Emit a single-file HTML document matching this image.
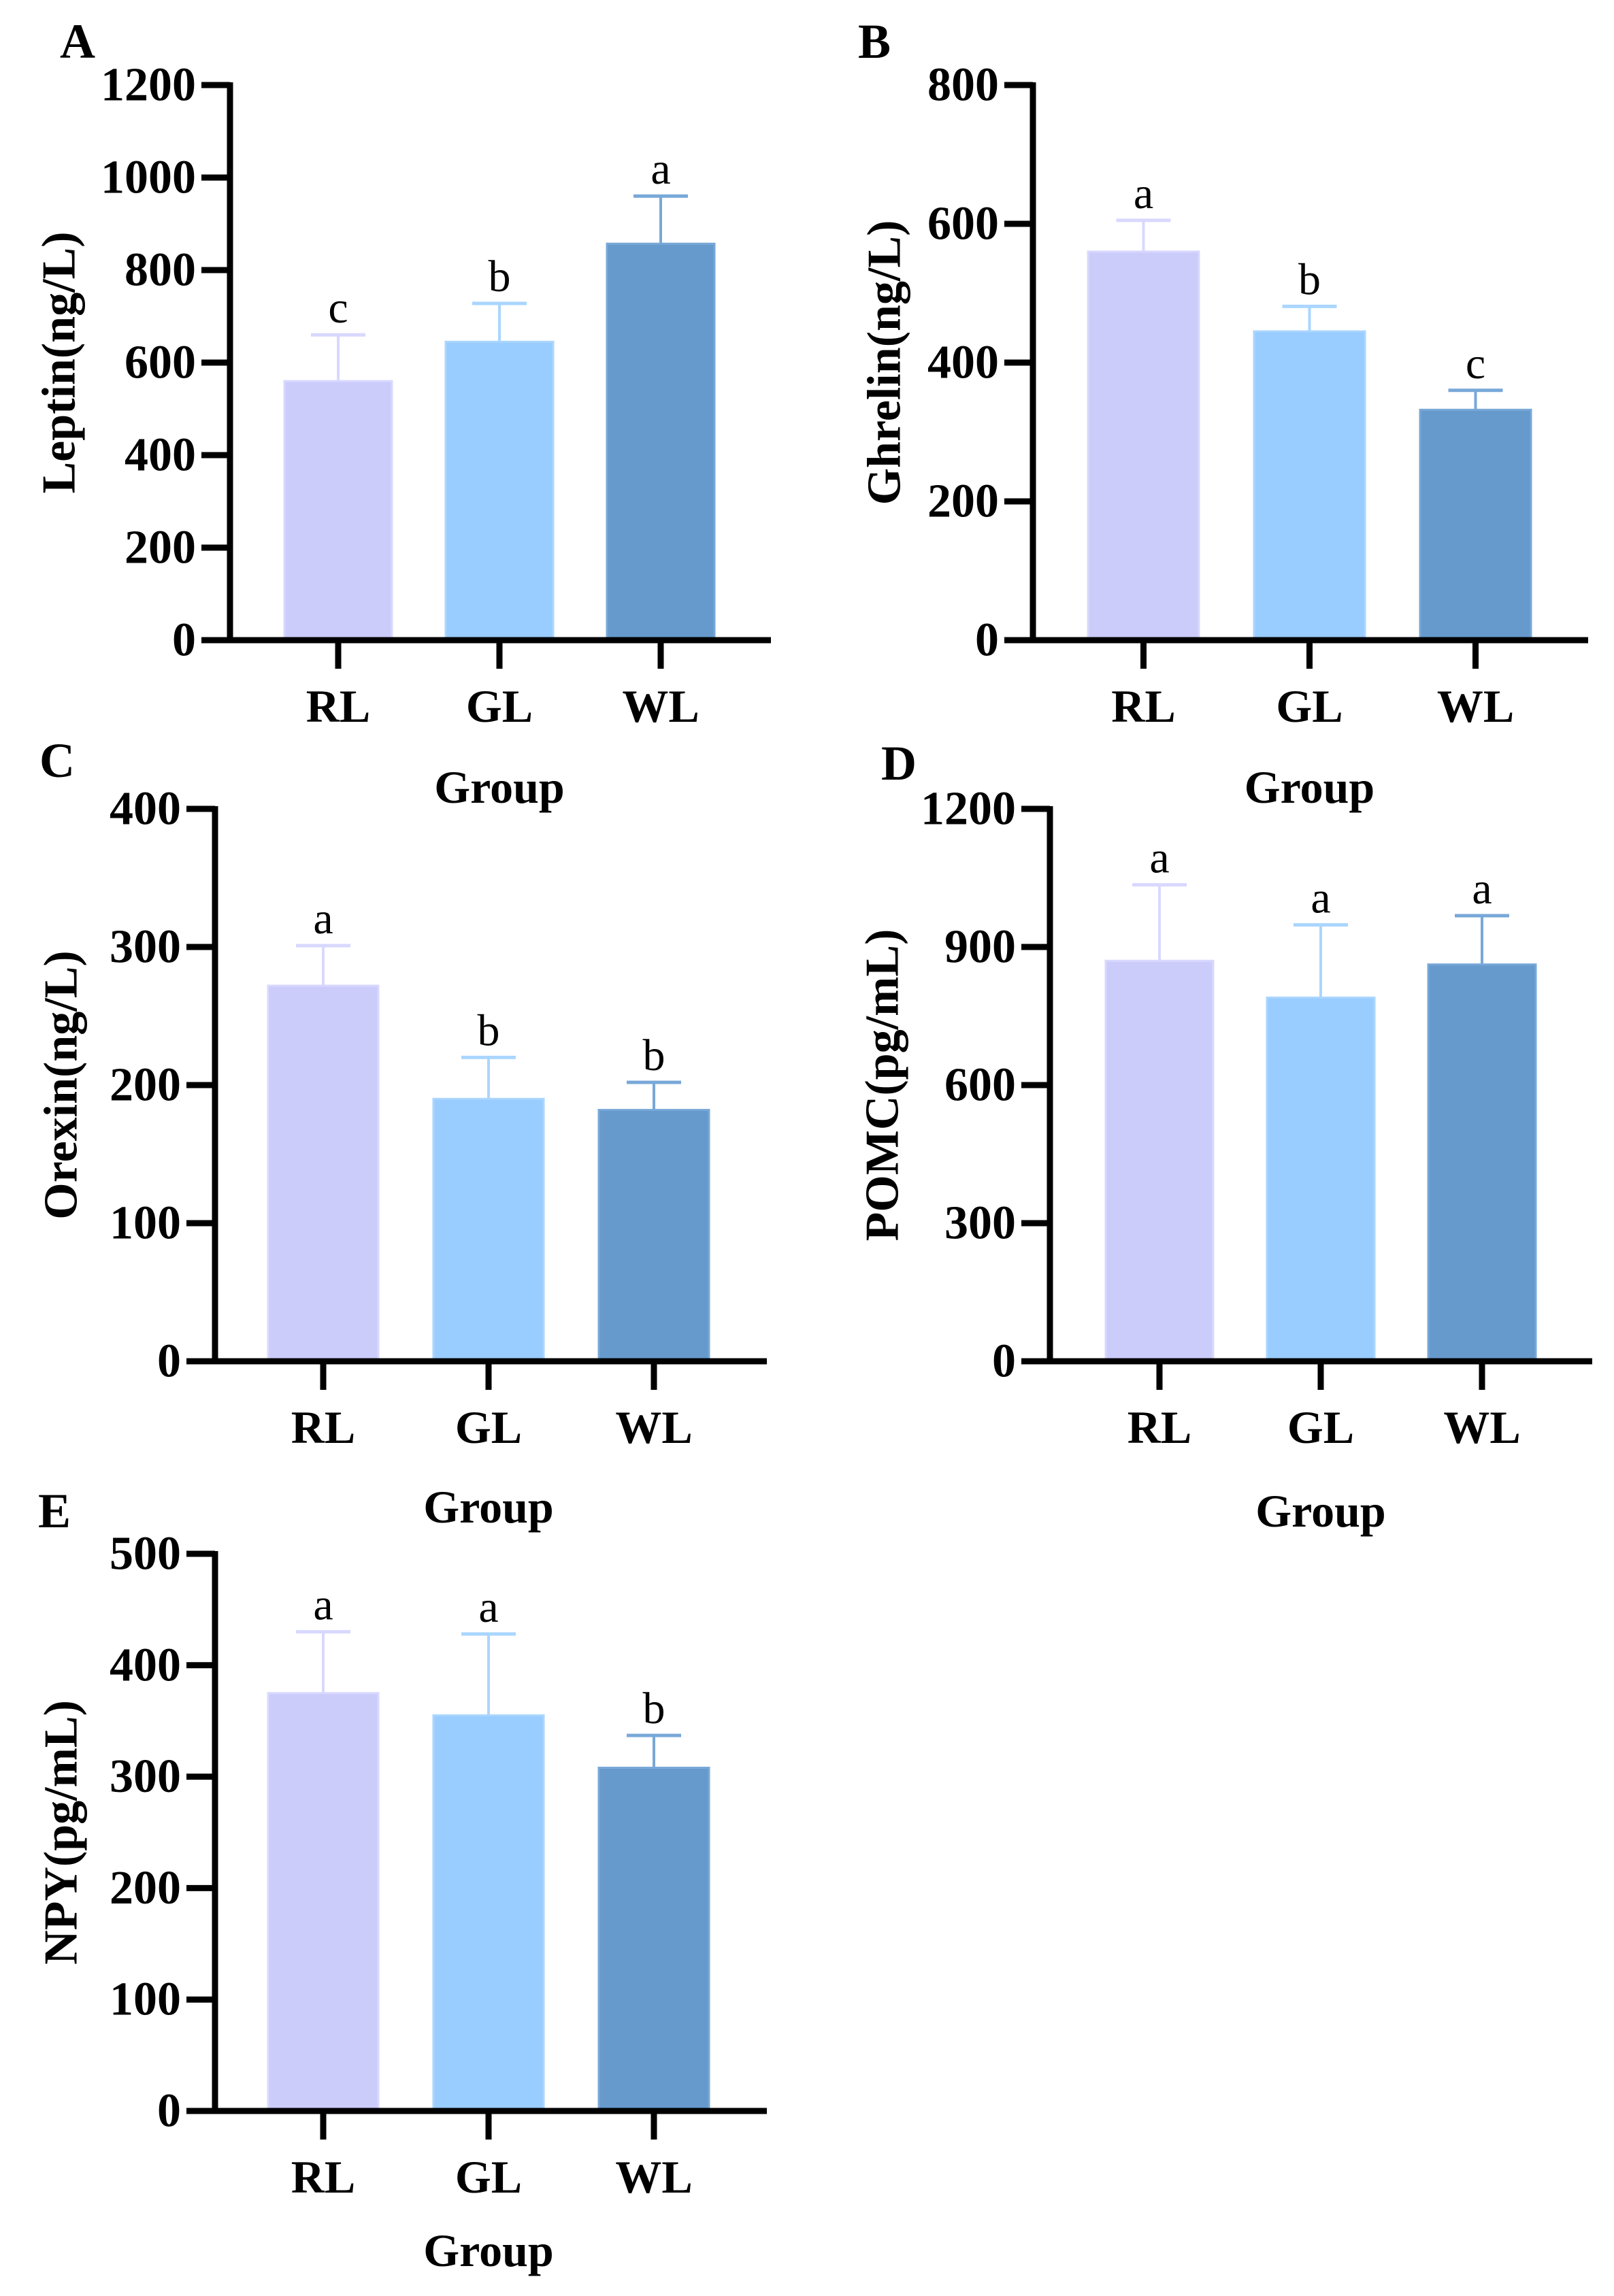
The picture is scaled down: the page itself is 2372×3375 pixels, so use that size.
<!DOCTYPE html>
<html><head><meta charset="utf-8">
<style>
html,body{margin:0;padding:0;background:#fff;}
svg{display:block;}
text{font-family:"Liberation Serif",serif;}
</style></head>
<body>
<svg id="fig" width="2372" height="3375" viewBox="0 0 2372 3375" xmlns="http://www.w3.org/2000/svg"></svg>
<script>
const categories = ["RL","GL","WL"];
const leptinValues = [560, 645, 857];
const leptinErrors = [100, 83, 103];
const leptinLetters = ["c","b","a"];
const leptinTicks = [0,200,400,600,800,1000,1200];
const ghrelinValues = [560, 445, 332];
const ghrelinErrors = [45, 36, 28];
const ghrelinLetters = ["a","b","c"];
const ghrelinTicks = [0,200,400,600,800];
const orexinValues = [272, 190, 182];
const orexinErrors = [29, 30, 20];
const orexinLetters = ["a","b","b"];
const orexinTicks = [0,100,200,300,400];
const pomcValues = [870, 790, 862];
const pomcErrors = [165, 158, 106];
const pomcLetters = ["a","a","a"];
const pomcTicks = [0,300,600,900,1200];
const npyValues = [375, 355, 308];
const npyErrors = [55, 73, 29];
const npyLetters = ["a","a","b"];
const npyTicks = [0,100,200,300,400,500];

const fills = ["#ccccfb","#99ccff","#6699cc"];
const strokes = ["#d8d8ff","#aad6ff","#78a8d8"];
const NS = "http://www.w3.org/2000/svg";
const svg = document.getElementById("fig");
function mk(tag, attrs, parent){
  const e = document.createElementNS(NS, tag);
  for (const k in attrs) e.setAttribute(k, attrs[k]);
  (parent||svg).appendChild(e);
  return e;
}
function panel(p){
  const g = mk("g", {});
  
  
  const max = p.ticks[p.ticks.length-1];
  const yScale = v => p.yZero - (v/max)*(p.yZero-p.yTop);
  const xScale = i => p.ax + p.off + i*p.step;
  const pl = mk("text", {x:p.lx, y:p.ly, "font-size":72, "font-weight":"bold", "text-anchor":"middle", "dominant-baseline":"central"}, g);
  pl.textContent = p.letter;
  
  
  p.values.forEach((v,i)=>{
    const x = xScale(i);
    const cx = x + p.bw/2;
    const eTop = yScale(v + p.errors[i]);
    const el = mk("line", {x1:cx, x2:cx, y1:yScale(v), y2:eTop, stroke:strokes[i], "stroke-width":4}, g);
    
    
    const cap = mk("line", {x1:cx-40, x2:cx+40, y1:eTop, y2:eTop, stroke:strokes[i], "stroke-width":5}, g);
    
    
    const r = mk("rect", {x:x, y:yScale(v), width:p.bw, height:p.yZero-yScale(v), fill:fills[i], stroke:strokes[i], "stroke-width":3}, g);
    
    
    const t = mk("text", {x:cx, y:eTop-18, "font-size":66, "text-anchor":"middle"}, g);
    t.textContent = p.letters[i];
    
    
    const tk = mk("line", {x1:cx, x2:cx, y1:p.yZero, y2:p.yZero+42, stroke:"#000", "stroke-width":9}, g);
    
    
    const cl = mk("text", {x:cx, y:p.yZero+97, "font-size":68, "font-weight":"bold", "text-anchor":"middle", "dominant-baseline":"central"}, g);
    cl.textContent = categories[i];
    
    
  });
  const ya = mk("line", {x1:p.ax, x2:p.ax, y1:p.yTop-4, y2:p.yZero+4, stroke:"#000", "stroke-width":9}, g);
  
  
  const xa = mk("line", {x1:p.ax-42, x2:p.xEnd, y1:p.yZero, y2:p.yZero, stroke:"#000", "stroke-width":9}, g);
  
  
  p.ticks.forEach(tv=>{
    const y = yScale(tv);
    const tl = mk("line", {x1:p.ax-42, x2:p.ax, y1:y, y2:y, stroke:"#000", "stroke-width":9}, g);
    
    
    const tt = mk("text", {x:p.ax-50, y:y, "font-size":70, "font-weight":"bold", "text-anchor":"end", "dominant-baseline":"central"}, g);
    tt.textContent = tv;
    
    
  });
  const tyc = (p.yTop+p.yZero)/2;
  const yt = mk("text", {x:p.tx, y:tyc, "font-size":70, "font-weight":"bold", "text-anchor":"middle", "dominant-baseline":"central", transform:"rotate(-90 "+p.tx+" "+tyc+")"}, g);
  yt.textContent = p.title;
  
  
  const gx = xScale(1) + p.bw/2;
  const gt = mk("text", {x:gx, y:p.gy, "font-size":68, "font-weight":"bold", "text-anchor":"middle", "dominant-baseline":"central"}, g);
  gt.textContent = "Group";
  
  
}
panel({name:"leptin-panel", letter:"A", lx:114, ly:61, ax:338, yTop:125, yZero:941, xEnd:1133, off:80, bw:158, step:237, ticks:leptinTicks, values:leptinValues, errors:leptinErrors, letters:leptinLetters, title:"Leptin(ng/L)", tx:87, gy:1157});
panel({name:"ghrelin-panel", letter:"B", lx:1285, ly:61, ax:1518, yTop:125, yZero:941, xEnd:2334, off:81, bw:163, step:244, ticks:ghrelinTicks, values:ghrelinValues, errors:ghrelinErrors, letters:ghrelinLetters, title:"Ghrelin(ng/L)", tx:1300, gy:1157});
panel({name:"orexin-panel", letter:"C", lx:84, ly:1118, ax:316, yTop:1189, yZero:2001, xEnd:1127, off:78, bw:162, step:243, ticks:orexinTicks, values:orexinValues, errors:orexinErrors, letters:orexinLetters, title:"Orexin(ng/L)", tx:90, gy:2215});
panel({name:"pomc-panel", letter:"D", lx:1321, ly:1122, ax:1543, yTop:1189, yZero:2001, xEnd:2340, off:82, bw:158, step:237, ticks:pomcTicks, values:pomcValues, errors:pomcErrors, letters:pomcLetters, title:"POMC(pg/mL)", tx:1297, gy:2221});
panel({name:"npy-panel", letter:"E", lx:80, ly:2221, ax:316, yTop:2284, yZero:3103, xEnd:1127, off:78, bw:162, step:243, ticks:npyTicks, values:npyValues, errors:npyErrors, letters:npyLetters, title:"NPY(pg/mL)", tx:90, gy:3308});
</script>
</body></html>
